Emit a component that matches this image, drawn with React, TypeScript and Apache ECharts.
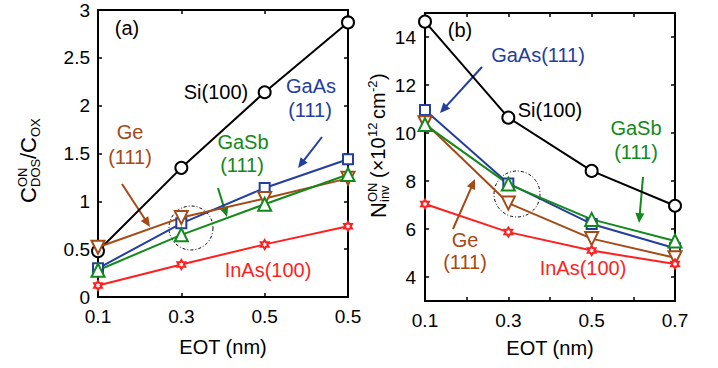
import React, { useEffect, useRef } from "react";
import * as echarts from "echarts";

// ---- data ----
const xCatsA = ["0.1", "0.3", "0.5", "0.5"];
const xValsB = [0.1, 0.3, 0.5, 0.7];
const xTickLabelsB = ["0.1", "0.3", "0.5", "0.7"];

const siA = [0.48, 1.35, 2.14, 2.87];
const gaasA = [0.3, 0.77, 1.14, 1.44];
const geA = [0.52, 0.83, 1.03, 1.24];
const gasbA = [0.28, 0.65, 0.97, 1.28];
const inasA = [0.12, 0.34, 0.55, 0.74];

const siB = [14.64, 10.64, 8.42, 6.97];
const gaasB = [10.96, 7.9, 6.21, 5.2];
const geB = [10.43, 7.08, 5.6, 4.8];
const gasbB = [10.35, 7.87, 6.4, 5.5];
const inasB = [7.04, 5.87, 5.1, 4.54];

const FONT = "'Liberation Sans', Arial, sans-serif";
const C_SI = "#000000";
const C_GAAS = "#233e9c";
const C_GE = "#a44a16";
const C_GASB = "#12891a";
const C_INAS = "#ff1f1f";

const STAR =
  "path://M0,-10L2.9,-5L8.7,-5L5.8,0L8.7,5L2.9,5L0,10L-2.9,5L-8.7,5L-5.8,0L-8.7,-5L-2.9,-5Z";

const axisLine = { show: true, onZero: false, lineStyle: { color: "#000", width: 2 } };
const axisTick = { show: true, inside: true, length: 4, lineStyle: { color: "#000", width: 1.5 } };
const labelStyle = { fontSize: 19, color: "#000", fontFamily: FONT };

function arrow(x1: number, y1: number, x2: number, y2: number, color: string) {
  const dx = x2 - x1, dy = y2 - y1;
  const L = Math.hypot(dx, dy);
  const ux = dx / L, uy = dy / L;
  const hl = 10, hw = 4.5;
  const bx = x2 - ux * hl, by = y2 - uy * hl;
  return [
    { type: "line", shape: { x1, y1, x2: bx + ux * 2, y2: by + uy * 2 }, style: { stroke: color, lineWidth: 2 } },
    {
      type: "polygon",
      shape: { points: [[x2, y2], [bx - uy * hw, by + ux * hw], [bx + uy * hw, by - ux * hw]] },
      style: { fill: color },
    },
  ];
}

function txt(text: string, x: number, y: number, color: string, size = 20) {
  return {
    type: "text",
    x,
    y,
    style: { text, fill: color, fontSize: size, fontFamily: FONT, align: "center", verticalAlign: "middle" },
  };
}

function sub(text: string, x: number, y: number, size: number) {
  return {
    type: "text",
    x,
    y,
    style: { text, fill: "#000", fontSize: size, fontFamily: FONT, align: "left", verticalAlign: "middle" },
  };
}

function lineSeries(
  data: any[],
  color: string,
  symbol: string,
  size: number,
  gi: number,
  rotate = 0,
  z = 2
) {
  const isPath = symbol.startsWith("path://");
  return {
    type: "line",
    xAxisIndex: gi * 2,
    yAxisIndex: gi * 2,
    data,
    symbol,
    symbolSize: size,
    symbolRotate: rotate,
    symbolKeepAspect: true,
    showAllSymbol: true,
    clip: false,
    z,
    lineStyle: { color, width: 2 },
    itemStyle: isPath
      ? { color: "#fff", borderColor: color, borderWidth: 2 }
      : { color, borderWidth: 2 },
    emphasis: { disabled: true },
  };
}

export default function App() {
  const ref = useRef<HTMLDivElement>(null);
  useEffect(() => {
    const chart = echarts.init(ref.current!, null, { renderer: "svg" });
    const zipB = (arr: number[]) => arr.map((v, i) => [xValsB[i], v]);

    const option: any = {
      animation: false,
      backgroundColor: "#fff",
      grid: [
        { left: 98, top: 10, width: 250, height: 287 },
        { left: 425, top: 13, width: 250, height: 288 },
      ],
      xAxis: [
        {
          type: "category",
          gridIndex: 0,
          data: xCatsA,
          boundaryGap: false,
          position: "bottom",
          axisLine,
          axisTick,
          axisLabel: { ...labelStyle, margin: 10, interval: 0 },
          splitLine: { show: false },
          name: "EOT (nm)",
          nameLocation: "middle",
          nameGap: 40,
          nameTextStyle: { fontSize: 20, color: "#000", fontFamily: FONT },
        },
        {
          type: "category",
          gridIndex: 0,
          data: xCatsA,
          boundaryGap: false,
          position: "top",
          axisLine,
          axisTick,
          axisLabel: { show: false },
          splitLine: { show: false },
        },
        {
          type: "value",
          gridIndex: 1,
          min: 0.1,
          max: 0.7,
          interval: 0.1,
          position: "bottom",
          axisLine,
          axisTick,
          axisLabel: {
            ...labelStyle,
            margin: 10,
            formatter: (v: number) => {
              const s = v.toFixed(1);
              return xTickLabelsB.includes(s) ? s : "";
            },
          },
          splitLine: { show: false },
          name: "EOT (nm)",
          nameLocation: "middle",
          nameGap: 37,
          nameTextStyle: { fontSize: 20, color: "#000", fontFamily: FONT },
        },
        {
          type: "value",
          gridIndex: 1,
          min: 0.1,
          max: 0.7,
          interval: 0.1,
          position: "top",
          axisLine,
          axisTick,
          axisLabel: { show: false },
          splitLine: { show: false },
        },
      ],
      yAxis: [
        {
          type: "value",
          gridIndex: 0,
          min: 0,
          max: 3,
          interval: 0.5,
          position: "left",
          axisLine,
          axisTick,
          axisLabel: { ...labelStyle, margin: 8 },
          splitLine: { show: false },
        },
        {
          type: "value",
          gridIndex: 0,
          min: 0,
          max: 3,
          interval: 0.5,
          position: "right",
          axisLine,
          axisTick,
          axisLabel: { show: false },
          splitLine: { show: false },
        },
        {
          type: "value",
          gridIndex: 1,
          min: 3,
          max: 15,
          splitNumber: 6,
          position: "left",
          axisLine,
          axisTick,
          axisLabel: { ...labelStyle, margin: 9, showMinLabel: false, showMaxLabel: false },
          splitLine: { show: false },
        },
        {
          type: "value",
          gridIndex: 1,
          min: 3,
          max: 15,
          splitNumber: 6,
          position: "right",
          axisLine,
          axisTick,
          axisLabel: { show: false },
          splitLine: { show: false },
        },
      ],
      series: [
        lineSeries(siA, C_SI, "emptyCircle", 12, 0),
        lineSeries(gaasA, C_GAAS, "emptyRect", 10, 0),
        lineSeries(geA, C_GE, "emptyTriangle", 13, 0, 180),
        lineSeries(gasbA, C_GASB, "emptyTriangle", 13, 0),
        lineSeries(inasA, C_INAS, STAR, 9, 0),
        lineSeries(zipB(siB), C_SI, "emptyCircle", 12, 1),
        lineSeries(zipB(gaasB), C_GAAS, "emptyRect", 10, 1),
        lineSeries(zipB(geB), C_GE, "emptyTriangle", 13, 1, 180),
        lineSeries(zipB(gasbB), C_GASB, "emptyTriangle", 13, 1),
        lineSeries(zipB(inasB), C_INAS, STAR, 9, 1),
      ],
      graphic: [
        // panel (a) annotations
        txt("(a)", 127, 28, "#000"),
        txt("Si(100)", 216, 92, C_SI),
        txt("GaAs", 311, 86, C_GAAS),
        txt("(111)", 310, 110, C_GAAS),
        txt("Ge", 130, 132, C_GE),
        txt("(111)", 130, 157, C_GE),
        txt("GaSb", 243, 142, C_GASB),
        txt("(111)", 242, 165, C_GASB),
        txt("InAs(100)", 268, 270, C_INAS),
        ...arrow(122, 184, 150, 227, C_GE),
        ...arrow(218, 188, 227, 217, C_GASB),
        ...arrow(322, 137, 298, 168, C_GAAS),
        {
          type: "circle",
          shape: { cx: 191, cy: 228, r: 22 },
          style: { fill: "none", stroke: "#000", lineWidth: 1, lineDash: [3, 2, 1, 2] },
        },
        // panel (b) annotations
        txt("(b)", 460, 30, "#000"),
        txt("GaAs(111)", 538, 55, C_GAAS),
        txt("Si(100)", 550, 110, C_SI),
        txt("GaSb", 636, 128, C_GASB),
        txt("(111)", 636, 152, C_GASB),
        txt("Ge", 465, 240, C_GE),
        txt("(111)", 465, 262, C_GE),
        txt("InAs(100)", 583, 268, C_INAS),
        ...arrow(482, 67, 440, 113, C_GAAS),
        ...arrow(453, 229, 475, 179, C_GE),
        ...arrow(643, 177, 639, 223, C_GASB),
        {
          type: "circle",
          shape: { cx: 517, cy: 194, r: 23 },
          style: { fill: "none", stroke: "#000", lineWidth: 1, lineDash: [3, 2, 1, 2] },
        },
        // y-axis title (a)
        {
          type: "group",
          x: 28,
          y: 203,
          rotation: Math.PI / 2,
          children: [
            sub("C", 0, 0, 22),
            sub("ON", 16, -6, 13),
            sub("DOS", 16, 7, 13),
            sub("/C", 44, 0, 22),
            sub("OX", 66, 7, 13),
          ],
        },
        // y-axis title (b)
        {
          type: "group",
          x: 378,
          y: 218,
          rotation: Math.PI / 2,
          children: [
            sub("N", 0, 0, 22),
            sub("ON", 16, -6, 13),
            sub("inv", 16, 6, 13),
            sub("(×10", 40, 0, 20),
            sub("12", 81, -6, 13),
            sub("cm", 99, 0, 20),
            sub("-2", 126, -6, 13),
            sub(")", 138, 0, 20),
          ],
        },
      ],
    };
    chart.setOption(option);
    return () => chart.dispose();
  }, []);
  return (
    <div
      ref={ref}
      style={{ position: "absolute", left: 0, top: 0, width: 718, height: 368 }}
    />
  );
}
